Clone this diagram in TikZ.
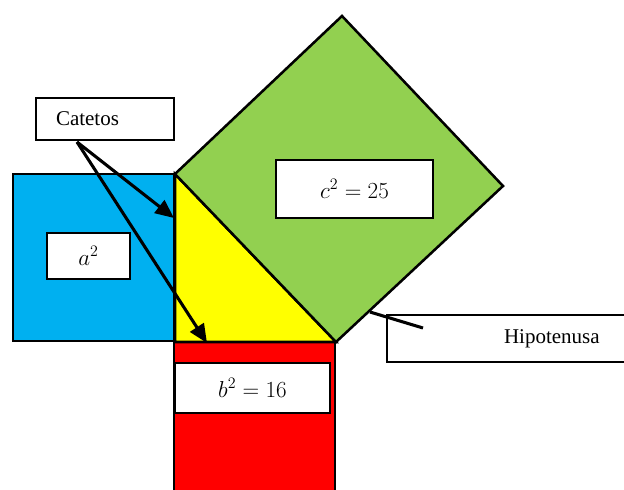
\documentclass[tikz,border=0pt]{standalone}
\usepackage{fontspec}
\setmainfont{Liberation Serif}
\usetikzlibrary{arrows.meta}
\definecolor{sqblue}{HTML}{00B0F0}
\definecolor{sqgreen}{HTML}{92D050}
\definecolor{sqyellow}{HTML}{FFFF00}
\definecolor{sqred}{HTML}{FF0000}
\tikzset{
  sq/.style={draw=black, line width=1.9pt, line join=miter},
  box/.style={draw=black, fill=white, line width=0.8pt, inner sep=0pt,
    font=\fontsize{15.75}{19}\selectfont},
  mbox/.style={box, font=\fontsize{18.5}{22}\selectfont},
  pointer/.style={line width=2.3pt, -{Triangle[length=14pt,width=12pt]}},
}
\begin{document}
\begin{tikzpicture}[x=0.75pt,y=-0.75pt]
\useasboundingbox (0,0) rectangle (624,489);
\clip (0,0) rectangle (624,489);
% squares and triangle
\fill[sqblue] (13,174) rectangle (174,341);
\draw[sq] (13,174) rectangle (174,341);
\fill[sqred] (174,342) rectangle (335,500);
\draw[sq] (174,342) rectangle (335,500);
\fill[sqyellow] (175,174) -- (175,342) -- (336,342) -- cycle;
\draw[sq] (175,174) -- (175,342) -- (336,342) -- cycle;
\fill[sqgreen] (175,174) -- (342,16) -- (503,186) -- (336,342) -- cycle;
\draw[sq] (175,174) -- (342,16) -- (503,186) -- (336,342) -- cycle;
% label boxes
\node[box, minimum width=138*0.75pt, minimum height=42*0.75pt,
  text width=98*0.75pt, inner xsep=20*0.75pt, align=left] (cat) at (105,119) {Catetos};
\node[mbox, minimum width=157*0.75pt, minimum height=58*0.75pt] (c2) at (354.5,189) {$c^2=25$};
\node[mbox, minimum width=83*0.75pt, minimum height=46*0.75pt] (a2) at (88.5,256) {$a^2$};
\node[mbox, minimum width=155*0.75pt, minimum height=50*0.75pt] (b2) at (252.5,388) {$b^2=16$};
\node[box, minimum width=245*0.75pt, minimum height=47*0.75pt,
  text width=235*0.75pt, inner xsep=5*0.75pt, align=left] (hip) at (509.5,338.5) {\hspace*{112\dimexpr0.75pt\relax}Hipotenusa};
% connectors
\coordinate (cs) at (77,142);
\coordinate (ta) at (174,218);
\coordinate (tb) at (207,343);
\draw[pointer] (cs) -- (ta);
\draw[pointer] (cs) -- (tb);
\coordinate (h1) at (370,312);
\coordinate (h2) at (423,328);
\draw[line width=2.3pt] (h1) -- (h2);
\end{tikzpicture}
\end{document}
